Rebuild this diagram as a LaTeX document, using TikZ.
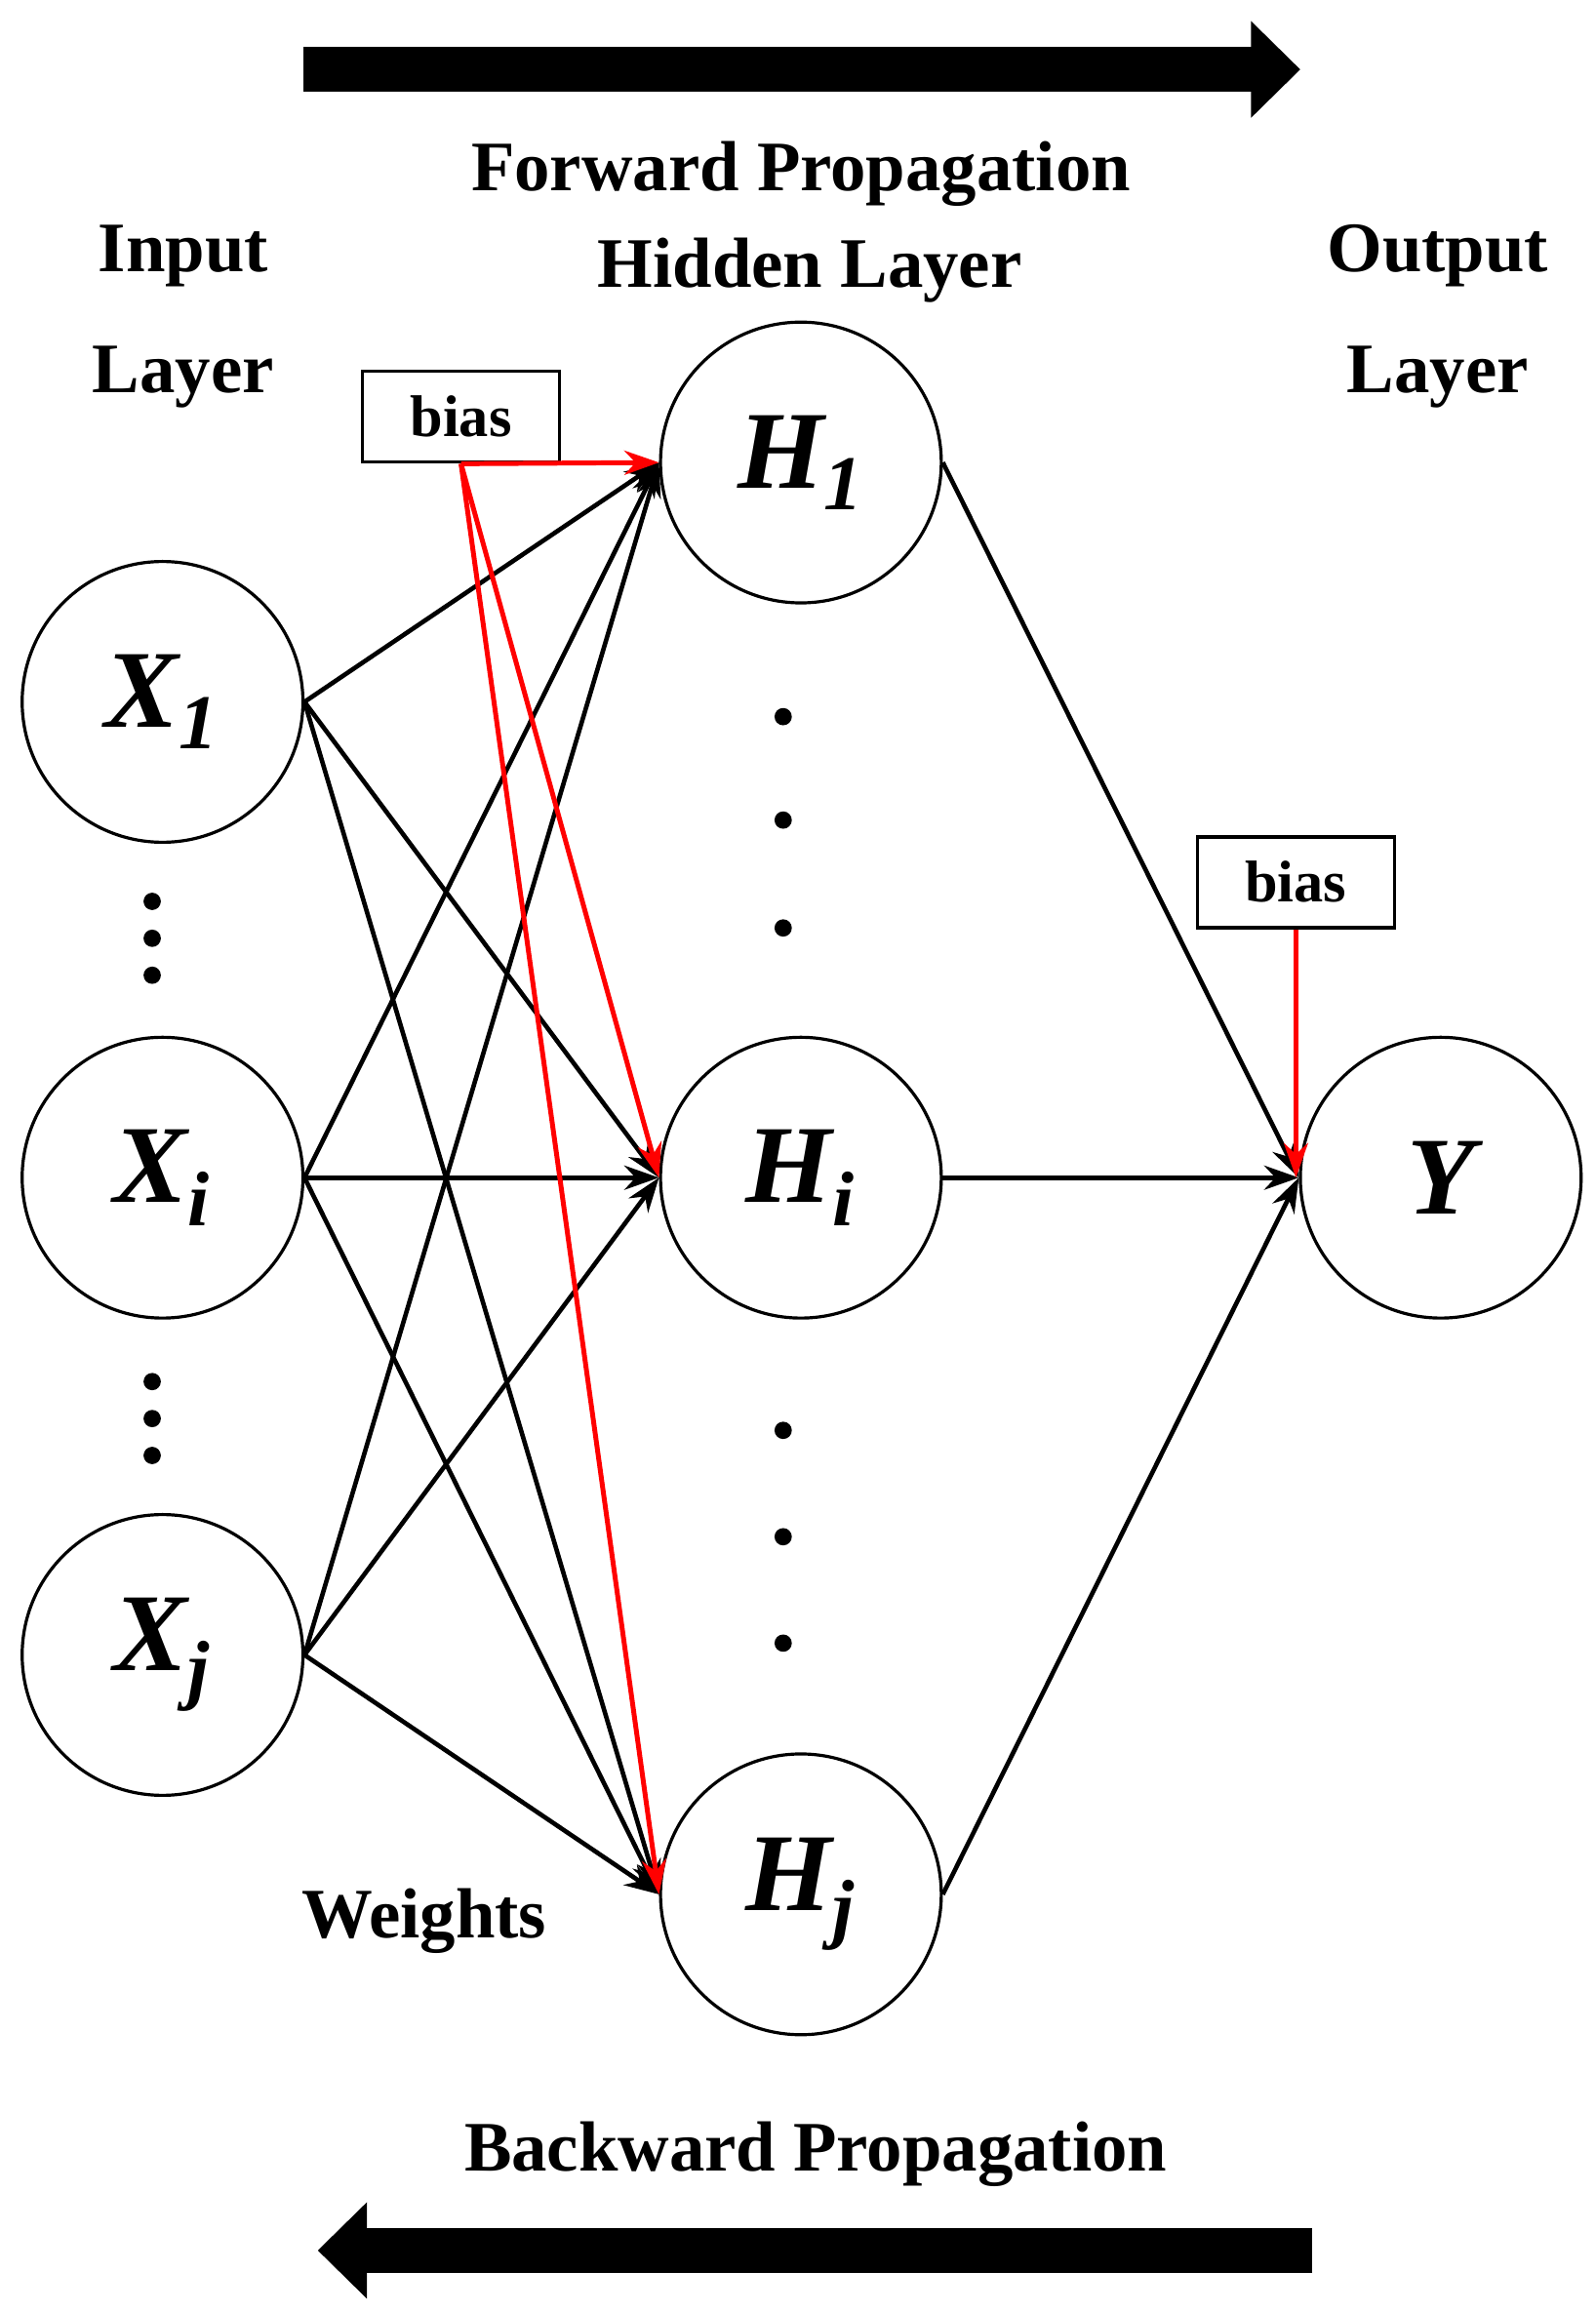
\documentclass[tikz,border=0pt]{standalone}
\usepackage{fontspec}
\setmainfont{Liberation Serif}
\usetikzlibrary{arrows.meta}
\begin{document}
\begin{tikzpicture}[x=0.015cm,y=-0.015cm,
  neuron/.style={draw, circle, line width=0.9pt, minimum size=2.85cm, inner sep=0pt, font=\fontsize{32}{36}\selectfont\bfseries\itshape},
  biasbox/.style={draw, line width=1pt, minimum width=2cm, minimum height=0.92cm, font=\fontsize{17}{20}\selectfont\bfseries},
  lbl/.style={font=\fontsize{20.5}{24}\selectfont\bfseries},
  edge/.style={line width=1.3pt, -{Stealth[length=10pt,width=7pt]}},
  redge/.style={line width=1.4pt, red, -{Stealth[length=10pt,width=7pt]}},
  dot/.style={circle, fill, inner sep=0pt, minimum size=5pt}]
  \useasboundingbox (0,0) rectangle (1080,1564);

  \node [neuron] (X1) at (110,475) {X\textsubscript{1}};
  \node [neuron] (Xi) at (110,797) {X\textsubscript{i}};
  \node [neuron] (Xj) at (110,1120) {X\textsubscript{j}};
  \node [neuron] (H1) at (542,313) {H\textsubscript{1}};
  \node [neuron] (Hi) at (542,797) {H\textsubscript{i}};
  \node [neuron] (Hj) at (542,1282) {H\textsubscript{j}};
  \node [neuron] (Y) at (975,797) {Y};

  \node [biasbox] (B1) at (312,282) {bias};
  \node [biasbox] (B2) at (877,597) {bias};

  \node [lbl] (tF) at (542,118) {Forward Propagation};
  \node [lbl] (tH) at (548,183) {Hidden Layer};
  \node [lbl] (tI) at (124,173) {Input};
  \node [lbl] (tIL) at (124,255) {Layer};
  \node [lbl] (tO) at (973,173) {Output};
  \node [lbl] (tOL) at (973,255) {Layer};
  \node [lbl] (tW) at (287,1300) {Weights};
  \node [lbl] (tB) at (552,1458) {Backward Propagation};

  % connections
  \foreach \x in {X1,Xi,Xj}
    \foreach \h in {H1,Hi,Hj}
      \draw [edge] (\x.east) -- (\h.west);
  \foreach \h in {H1,Hi,Hj}
    \draw [edge] (\h.east) -- (Y.west);
  \foreach \h in {H1,Hi,Hj}
    \draw [redge] (B1.south) -- (\h.west);
  \draw [redge] (B2.south) -- (B2.south |- Y.west);

  % dots
  \foreach \y in {485,555,628,968,1040,1112}
    \node [dot] at (530,\y) {};
  \foreach \y in {610,635,660,935,960,985}
    \node [dot] at (103,\y) {};

  % propagation arrows
  \draw [line width=0.45cm, -{Triangle[length=0.5cm,width=0.95cm]}] (205,47) -- (880,47);
  \draw [line width=0.45cm, -{Triangle[length=0.5cm,width=0.95cm]}] (888,1523) -- (215,1523);
\end{tikzpicture}
\end{document}
